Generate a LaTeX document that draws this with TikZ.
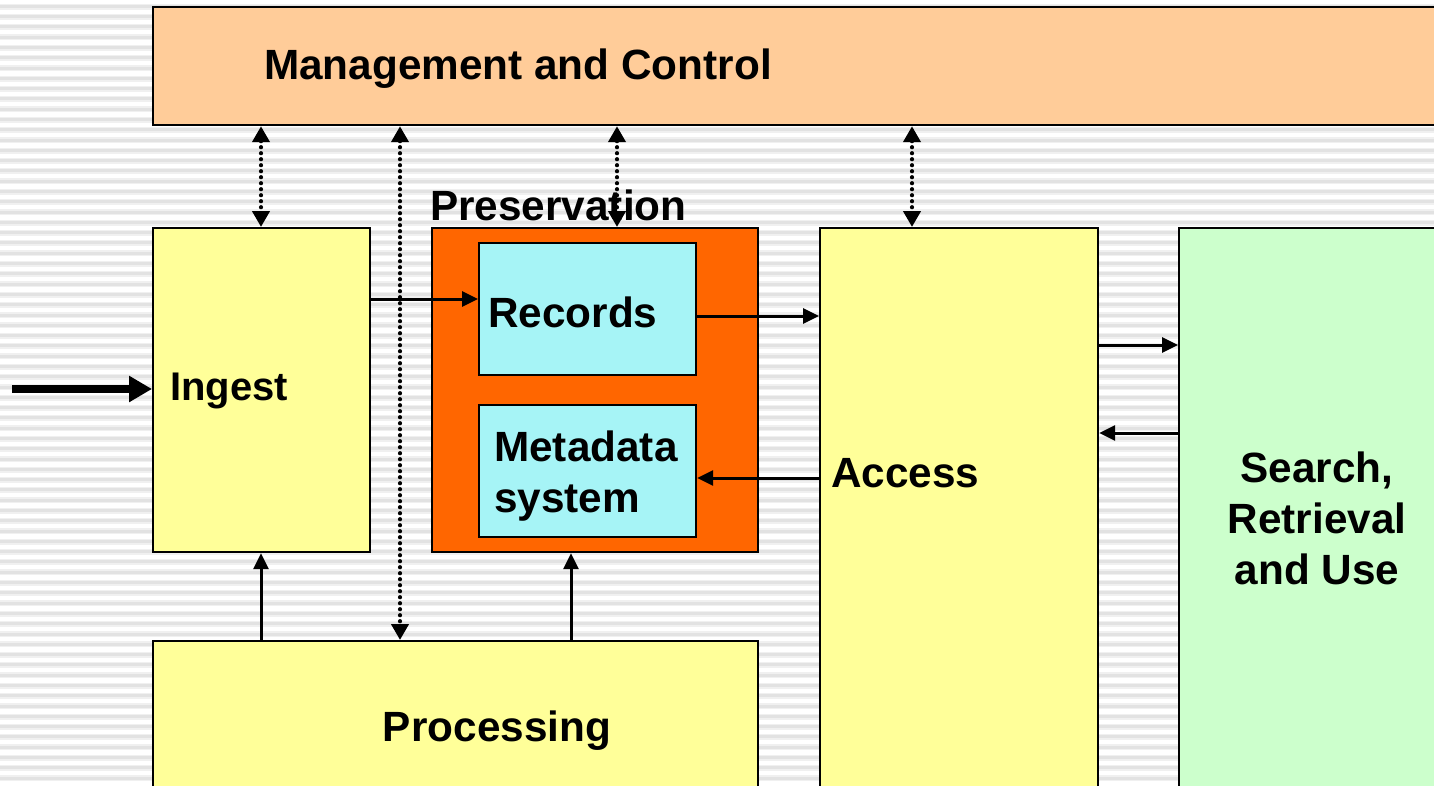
\documentclass[tikz,border=0pt]{standalone}
\usepackage{fontspec}
\setmainfont{Liberation Sans}
\usetikzlibrary{arrows.meta}
\definecolor{mgmt}{HTML}{FFCC99}
\definecolor{pale}{HTML}{FFFF99}
\definecolor{pres}{HTML}{FF6600}
\definecolor{cyanbox}{HTML}{A6F4F6}
\definecolor{greenbox}{HTML}{CCFFCC}
\definecolor{stripeA}{HTML}{E2E2E2}
\definecolor{stripeB}{HTML}{F0F0F0}
\tikzset{
  block/.style={draw=black, line width=2.2pt, rectangle, inner sep=0pt, anchor=north west},
  lbl/.style={inner sep=0pt, font=\fontsize{42.3}{51}\selectfont\bfseries},
  flow/.style={line width=3pt, -{Triangle[length=16pt,width=15pt]}},
  ctrl/.style={line width=4.2pt, line cap=round, dash pattern=on 0pt off 6pt,
    {Triangle[length=16pt,width=17pt]}-{Triangle[length=16pt,width=17pt]}},
  feed/.style={line width=8pt, -{Triangle[length=23pt,width=25pt]}},
}
\begin{document}
\begin{tikzpicture}[x=1pt,y=-1pt]
\useasboundingbox (0,0) rectangle (1434,785);
\clip (0,0) rectangle (1434,785);
% striped backdrop
\fill[white] (0,0) rectangle (1434,785);
\foreach \i in {0,...,77}{
  \fill[stripeB] (0,{3.5+10.29*\i}) rectangle (1434,{9.5+10.29*\i});
  \fill[stripeA] (0,{4.8+10.29*\i}) rectangle (1434,{7.8+10.29*\i});
}
% boxes
\node[block, fill=mgmt, minimum width=1300pt, minimum height=118pt] (mgmt) at (152,6) {};
\node[block, fill=pale, minimum width=217pt, minimum height=324pt] (ingest) at (152,227) {};
\node[block, fill=pres, minimum width=326pt, minimum height=324pt] (pres) at (431,227) {};
\node[block, fill=cyanbox, minimum width=217pt, minimum height=132pt] (rec) at (478,242) {};
\node[block, fill=cyanbox, minimum width=217pt, minimum height=132pt] (meta) at (478,404) {};
\node[block, fill=pale, minimum width=278pt, minimum height=620pt] (access) at (819,227) {};
\node[block, fill=greenbox, minimum width=300pt, minimum height=620pt] (search) at (1178,227) {};
\node[block, fill=pale, minimum width=605pt, minimum height=200pt] (proc) at (152,640) {};
% labels
\node[lbl, anchor=base west] (mgmtT) at (264,79) {Management and Control};
\node[lbl, anchor=base west, font=\fontsize{40}{51}\selectfont\bfseries] (ingestT) at (170,400) {Ingest};
\node[lbl, anchor=base west] (presT) at (430,220) {Preservation};
\node[lbl, anchor=base west] (recT) at (488,327) {Records};
\node[lbl, anchor=base west, align=left] (metaT) at (494,512) {Metadata\\system};
\node[lbl, anchor=base west] (accessT) at (831,487) {Access};
\node[lbl, align=center] (searchT) at (1317,518) {Search,\\Retrieval\\and Use};
\node[lbl, anchor=base] (procT) at (497,741) {Processing};
% incoming material
\coordinate (src) at (12,389);
\draw[feed] (src) -- (ingest.west |- src);
% control links to management
\draw[ctrl] (mgmt.south -| 261,0) -- (ingest.north -| 261,0);
\draw[ctrl] (mgmt.south -| 400,0) -- (proc.north -| 400,0);
\draw[ctrl] (mgmt.south -| 617,0) -- (pres.north -| 617,0);
\draw[ctrl] (mgmt.south -| 912,0) -- (access.north -| 912,0);
% data flows
\draw[flow] (ingest.east |- 0,299) -- (rec.west |- 0,299);
\draw[flow] (rec.east |- 0,316) -- (access.west |- 0,316);
\draw[flow] (access.west |- 0,478) -- (meta.east |- 0,478);
\draw[flow] (access.east |- 0,345) -- (search.west |- 0,345);
\draw[flow] (search.west |- 0,433) -- (access.east |- 0,433);
\draw[flow] (proc.north -| 261,0) -- (ingest.south -| 261,0);
\draw[flow] (proc.north -| 571,0) -- (pres.south -| 571,0);
\end{tikzpicture}
\end{document}
